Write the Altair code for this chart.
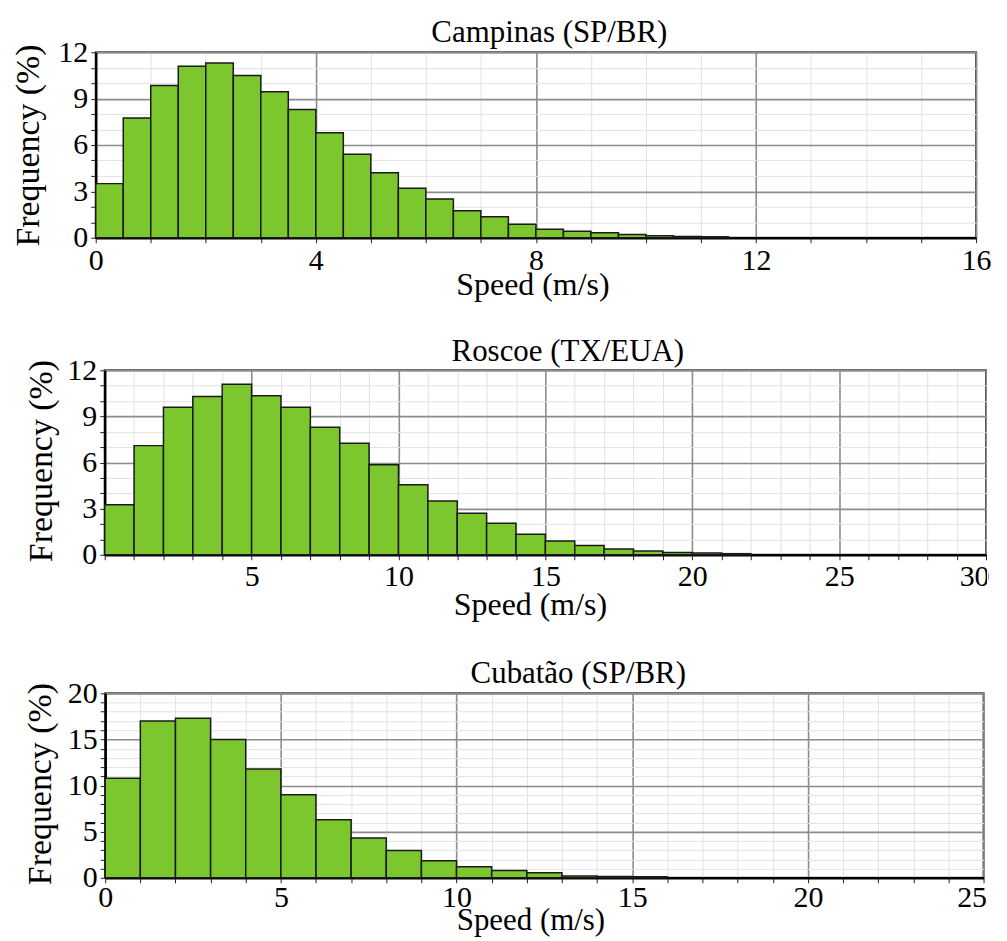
import altair as alt
import pandas as pd

# ---- data ----
campinas_freq = [3.5, 7.75, 9.85, 11.1, 11.3, 10.5, 9.45, 8.3, 6.8, 5.4, 4.2, 3.2,
                 2.5, 1.75, 1.35, 0.87, 0.55, 0.42, 0.32, 0.2, 0.12, 0.08, 0.06]
campinas_bin = 0.5
roscoe_freq = [3.25, 7.1, 9.6, 10.3, 11.1, 10.35, 9.6, 8.3, 7.25, 5.85, 4.55, 3.5,
               2.7, 2.05, 1.33, 0.9, 0.6, 0.38, 0.24, 0.15, 0.12, 0.07]
roscoe_bin = 1.0
cubatao_freq = [10.8, 17.0, 17.3, 15.0, 11.8, 9.0, 6.3, 4.3, 2.95, 1.85, 1.2, 0.8,
                0.55, 0.18, 0.13, 0.1]
cubatao_bin = 1.0

titles = ["Campinas (SP/BR)", "Roscoe (TX/EUA)", "Cubatão (SP/BR)"]
x_title = "Speed (m/s)"
y_title = "Frequency (%)"

FONT = "Liberation Serif"
BAR_FILL = "#7cc62e"
GUIDE = "white"


def panel(freq, bin_w, xmax, ymax, xmajor, ymajor, title, plot_x, plot_y, w, h,
          title_cx, title_by, xtitle_x, xtitle_y, ytitle_x, ytitle_shift,
          band_top, band_bottom, right_ext, show_x0=True, xlab_y=31, last_right=False,
          xtitle_size=32):
    df = pd.DataFrame({
        "start": [i * bin_w for i in range(len(freq))],
        "end": [(i + 1) * bin_w for i in range(len(freq))],
        "freq": freq,
    })
    x_vals = list(range(0, xmax + 1))
    y_vals = list(range(0, ymax + 1))
    xtest = f"datum.value % {xmajor} === 0" + ("" if show_x0 else " && datum.value > 0")
    ytest = f"datum.value % {ymajor} === 0"
    last = f"datum.value === {xmax}"
    extra = {}
    if last_right:
        extra = dict(
            labelAlign={"condition": {"test": last, "value": "right"}, "value": "center"},
            labelOffset={"condition": {"test": last, "value": 3}, "value": 0},
        )
    xaxis = alt.Axis(
        values=x_vals, title=x_title, orient="bottom",
        labelExpr=f"({xtest}) ? datum.label : ''",
        labelFont=FONT, labelFontSize=30, labelColor="black",
        labelBaseline="alphabetic", labelPadding=xlab_y - 5,
        labelFlush=False, labelOverlap=False, labelBound=False,
        tickSize=5, tickColor="#222", tickWidth=1,
        grid=True,
        gridColor={"condition": {"test": f"datum.value % {xmajor} === 0", "value": "#8c8c8c"}, "value": "#e2e2e2"},
        gridWidth={"condition": {"test": f"datum.value % {xmajor} === 0", "value": 1.6}, "value": 1},
        domainColor="black", domainWidth=2.5,
        titleFont=FONT, titleFontSize=xtitle_size, titleFontWeight="normal", titleColor="black",
        titleX=xtitle_x, titleY=xtitle_y, titleAlign="center", titleBaseline="alphabetic",
        **extra,
    )
    yaxis = alt.Axis(
        values=y_vals, title=y_title, orient="left",
        labelExpr=f"({ytest}) ? datum.label : ''",
        labelFont=FONT, labelFontSize=30, labelColor="black",
        labelBaseline="middle", labelPadding=3, labelOverlap=False, labelBound=False,
        labelFlush=False,
        tickSize=5, tickColor="#222", tickWidth=1,
        grid=True,
        gridColor={"condition": {"test": ytest, "value": "#8c8c8c"}, "value": "#e2e2e2"},
        gridWidth={"condition": {"test": ytest, "value": 1.6}, "value": 1},
        domainColor="black", domainWidth=2.5,
        titleFont=FONT, titleFontSize=34, titleFontWeight="normal", titleColor="black",
        titleAngle=270, titleX=ytitle_x, titleY=h / 2 + ytitle_shift,
        titleAlign="center", titleBaseline="middle",
    )
    bars = alt.Chart(df).mark_bar(fill=BAR_FILL, stroke="#1a1a1a", strokeWidth=1.5).encode(
        x=alt.X("start:Q", scale=alt.Scale(domain=[0, xmax], nice=False, zero=False), axis=xaxis),
        x2="end:Q",
        y=alt.Y("freq:Q", scale=alt.Scale(domain=[0, ymax], nice=False), axis=yaxis),
        y2=alt.datum(0),
    )
    one = pd.DataFrame({"a": [0]})
    # invisible rules fixing the panel's outer bounds for the layout
    left_rule = alt.Chart(one).mark_rule(color=GUIDE, strokeWidth=1).encode(
        x=alt.value(8.5 - plot_x),
        y=alt.value(band_top - plot_y + 0.5),
        y2=alt.value(band_bottom - plot_y - 0.5),
    )
    right_rule = alt.Chart(one).mark_rule(color=GUIDE, strokeWidth=1).encode(
        x=alt.value(right_ext - 0.5),
        y=alt.value(band_top - plot_y + 0.5),
        y2=alt.value(band_bottom - plot_y - 0.5),
    )
    head = alt.Chart(one).mark_text(
        text=title, font=FONT, fontSize=31, color="black",
        align="center", baseline="top",
    ).encode(
        x=alt.value(title_cx - plot_x),
        y=alt.value(title_by - 24 - plot_y),
    )
    return alt.layer(bars, left_rule, right_rule, head).properties(width=w, height=h)


p1 = panel(campinas_freq, campinas_bin, 16, 12, 4, 3, titles[0],
           plot_x=94, plot_y=50, w=883, h=186, title_cx=549, title_by=40,
           xtitle_x=438, xtitle_y=57, ytitle_x=-67, ytitle_shift=0,
           band_top=8, band_bottom=315, right_ext=905, xlab_y=32)
p2 = panel(roscoe_freq, roscoe_bin, 30, 12, 5, 3, titles[1],
           plot_x=103.5, plot_y=367, w=884, h=185, title_cx=568, title_by=358,
           xtitle_x=426.5, xtitle_y=60, ytitle_x=-63.5, ytitle_shift=-2,
           band_top=315, band_bottom=638, right_ext=886, show_x0=False, xlab_y=31,
           last_right=True)
p3 = panel(cubatao_freq, cubatao_bin, 25, 20, 5, 5, titles[2],
           plot_x=103.5, plot_y=689, w=881, h=185, title_cx=578, title_by=679,
           xtitle_x=426.5, xtitle_y=52, ytitle_x=-64.5, ytitle_shift=-2,
           band_top=638, band_bottom=932, right_ext=886, xlab_y=29, last_right=True,
           xtitle_size=31)

chart = alt.vconcat(p1, p2, p3, spacing=0, padding=0, center=True).configure_view(
    stroke="#444444", strokeWidth=2
)

chart.save("out.html", embed_options={"renderer": "svg", "actions": False})
